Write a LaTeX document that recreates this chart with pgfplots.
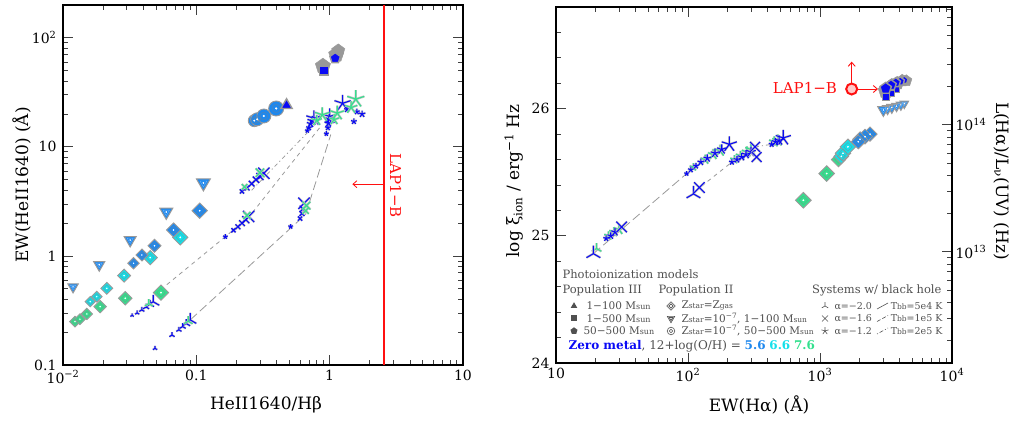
\documentclass[border=0pt]{standalone}
\usepackage{pgfplots}
\pgfplotsset{compat=1.18}
\usepackage{pgfplotstable}
\usetikzlibrary{plotmarks,arrows.meta}
\usepackage{fontspec}
\setmainfont{DejaVu Serif}
\definecolor{zm}{HTML}{0A0AF5}
\definecolor{c56}{HTML}{1E88EE}
\definecolor{c66}{HTML}{14E0EA}
\definecolor{c76}{HTML}{34E08E}
\definecolor{gr}{HTML}{999999}
\definecolor{lap}{HTML}{FF1010}
\definecolor{lgd}{HTML}{505050}

\pgfdeclareplotmark{itri*}{%
  \pgfpathmoveto{\pgfqpoint{0pt}{-\pgfplotmarksize}}%
  \pgfpathlineto{\pgfqpointpolar{30}{\pgfplotmarksize}}%
  \pgfpathlineto{\pgfqpointpolar{150}{\pgfplotmarksize}}%
  \pgfpathclose\pgfusepathqfillstroke}
\pgfdeclareplotmark{itri}{%
  \pgfpathmoveto{\pgfqpoint{0pt}{-\pgfplotmarksize}}%
  \pgfpathlineto{\pgfqpointpolar{30}{\pgfplotmarksize}}%
  \pgfpathlineto{\pgfqpointpolar{150}{\pgfplotmarksize}}%
  \pgfpathclose\pgfusepathqstroke}

\pgfplotsset{
  vsz/.style n args={3}{scatter, only marks, point meta=\thisrow{s},
    visualization depends on={#1*\thisrow{s}\as\perptsize},
    scatter/@pre marker code/.code={\scope[mark size=\perptsize, draw=#2, fill=#3]},
    scatter/@post marker code/.code={\endscope}},
  base/.style={scale only axis, clip mode=individual,
    axis line style={line width=1.3pt},
    major tick length=10pt, minor tick length=5pt,
    every tick/.style={line width=0.8pt, black!75},
    tick label style={font=\fontsize{14}{14}\selectfont},
    yticklabel style={xshift=-3pt}, xticklabel style={yshift=-2pt}},
}
\newcommand\conc[6][]{%
 \addplot[vsz={1}{gr}{#5}, mark=#3, mark options={line width=0.9pt, draw=gr, fill=#5, #1}] table {#2};
 \addplot[vsz={#6}{#5!50!gray}{#5}, mark=#4, mark options={line width=0.5pt, draw=#5!50!gray, #1}] table {#2};
 \addplot[vsz={0.12}{white}{white}, mark=*, mark options={draw=white, fill=white}] table {#2};
}
\newcommand\invt[2]{%
 \addplot[vsz={1}{gr}{#2}, mark=itri*, mark options={line width=1pt, draw=gr, fill=#2}] table {#1};
 \addplot[vsz={0.5}{#2!65!white}{#2}, mark=itri, mark options={line width=0.35pt, draw=#2!65!white}] table {#1};
 \addplot[vsz={0.08}{white}{white}, mark=*, mark options={draw=white, fill=white}] table {#1};
}
\newcommand\bh[3]{%
 \addplot[vsz={1}{gr!60}{gr!60}, mark=#2, mark options={line width=2.3pt, draw=gr!60}] table {#1};
 \addplot[vsz={1}{#3}{#3}, mark=#2, mark options={line width=1.1pt, draw=#3}] table {#1};
}
\newcommand\solid[4][]{%
 \addplot[vsz={1}{gr}{#4}, mark=#3, mark options={line width=1.4pt, draw=gr, fill=#4, #1}] table {#2};
}

% ---------------- left panel data ----------------
\pgfplotstableread{
x y s
0.0119 0.52 6
0.0187 0.83 6.5
0.0319 1.40 7
0.0595 2.53 7.5
0.113 4.67 8
}\LinvT
\pgfplotstableread{
x y s
0.0338 0.857 4.0
0.0391 1.02 4.2
0.0486 1.24 4.6
0.0675 1.73 5.0
0.106 2.60 5.4
}\LdiaA
\pgfplotstableread{
x y s
0.0160 0.381 3.6
0.0179 0.423 3.8
0.0213 0.505 4.2
0.0287 0.66 4.6
0.0451 0.965 5.0
0.0758 1.48 5.4
}\LdiaB
\pgfplotstableread{
x y s
0.0123 0.25 3.8
0.0134 0.263 3.8
0.0151 0.294 4.0
0.0190 0.343 4.4
0.0293 0.409 4.8
0.0543 0.461 5.4
}\LdiaC
\pgfplotstableread{
x y s
0.272 17.4 6
0.286 17.9 6.5
0.321 19.2 7
0.397 22.5 7.5
}\Lcirc
\pgfplotstableread{
x y s
0.89 55 8
1.12 70 8
1.16 76 7
}\Lgray
\pgfplotstableread{
x y s
0.475 24.1 6.5
}\Ltri
\pgfplotstableread{
x y s
0.906 50.1 4.5
}\Lsq
\pgfplotstableread{
x y s
1.10 65.1 5.5
}\Lpent
\pgfplotstableread{
x y s
0.033 0.285 2
0.036 0.30 2.5
0.039 0.32 3
0.042 0.34 3.5
0.045 0.36 4.5
0.0475 0.38 7
0.049 0.142 2.5
0.0657 0.188 3
0.074 0.21 3
0.079 0.225 3.5
0.084 0.24 4.5
0.090 0.259 7
}\LmsB
\pgfplotstableread{
x y s
0.044 0.365 4.5
0.087 0.252 5
}\LmsG
\pgfplotstableread{
x y s
0.19 1.72 3
0.205 1.85 3.5
0.22 2.0 4
0.235 2.15 5
0.247 2.30 8
0.22 3.9 3
0.24 4.2 3.5
0.26 4.6 4
0.28 5.0 4.5
0.30 5.35 5
0.321 5.73 8
0.60 2.2 3
0.62 2.45 3.5
0.63 2.7 4.5
0.642 3.04 8
}\LxB
\pgfplotstableread{
x y s
0.24 2.35 5
0.30 5.8 6
0.23 4.3 4
0.66 2.6 4.5
0.67 2.9 5.5
}\LxG
\pgfplotstableread{
x y s
0.165 1.50 2.5
0.51 1.86 2.5
0.68 14.1 2.5
0.70 15.0 3
0.72 16.3 4
0.74 17.3 5
0.762 18.3 8
0.944 13.2 2.5
0.97 15.0 3
0.98 16.5 4
0.99 18.0 5
1.0 19.0 8
1.25 25.1 8.5
1.52 17.1 3
1.75 20.0 3.5
1.6 21.0 3
1.35 22.0 3
}\LsB
\pgfplotstableread{
x y s
0.80 17.5 5.5
1.08 17.8 5.5
0.88 19.7 7.5
1.14 20.4 7.5
1.45 23.0 6.5
1.57 27.4 9
}\LsG

% ---------------- right panel data ----------------
\pgfplotstableread{
x y s
19.2 24.86 8
110 25.33 8
}\RmsB
\pgfplotstableread{
x y s
20.3 24.9 5.5
}\RmsG
\pgfplotstableread{
x y s
31.4 25.07 7.5
122 25.38 7.5
322 25.70 7
331 25.62 7
}\RxB
\pgfplotstableread{
x y s
24 24.98 3
26 25.0 3.5
28 25.03 4
97.7 25.49 2.5
105 25.52 3
115 25.55 3
125 25.58 3.5
140 25.61 4
160 25.65 4.5
180 25.68 5
205.6 25.72 8
215 25.58 3
235 25.60 3.5
255 25.62 4
275 25.64 4.5
300 25.66 5
430 25.72 3
460 25.74 4
490 25.75 5
527 25.77 8
}\RsB
\pgfplotstableread{
x y s
25 25.0 4.5
27.5 25.03 5
30 25.05 5.5
110 25.54 4
135 25.60 5
155 25.64 5.5
175 25.67 6
225 25.60 4.5
250 25.63 5
280 25.66 5.5
300 25.68 6
450 25.74 5.5
480 25.75 6
}\RsG
\pgfplotstableread{
x y s
4350 26.04 5
4100 26.03 5.5
3800 26.02 5.5
3500 26.01 6
3250 26.00 6
3020 25.99 6.5
}\RinvT
\pgfplotstableread{
x y s
4500 26.22 6
4200 26.22 6.5
3850 26.20 7
3500 26.18 7.5
3150 26.14 8
}\Rgray
\pgfplotstableread{
x y s
3800 26.15 3
3450 26.12 3.2
3150 26.09 3.5
}\Rsq
\pgfplotstableread{
x y s
4350 26.225 4
4050 26.215 4.5
3750 26.205 5
3450 26.185 5.5
3143 26.16 6
}\Rpent
\pgfplotstableread{
x y s
748 25.28 5.5
1123 25.49 5.5
1380 25.60 5.0
}\RdiaC
\pgfplotstableread{
x y s
1450 25.625 5.2
1493 25.65 5.5
1628 25.70 5.5
}\RdiaB
\pgfplotstableread{
x y s
2393 25.80 5
2193 25.78 5.2
2010 25.76 5.2
1950 25.74 5
}\RdiaA

\tikzset{
 ltri/.pic={\fill (90:3.8pt)--(210:3.8pt)--(330:3.8pt)--cycle;},
 lsq/.pic={\fill (-3pt,-3pt) rectangle (3pt,3pt);},
 lpent/.pic={\fill (90:3.7pt)--(162:3.7pt)--(234:3.7pt)--(306:3.7pt)--(18:3.7pt)--cycle;},
 ldia/.pic={\draw[line width=0.6pt] (0,4.3pt)--(4.3pt,0)--(0,-4.3pt)--(-4.3pt,0)--cycle (0,2.1pt)--(2.1pt,0)--(0,-2.1pt)--(-2.1pt,0)--cycle;},
 linvt/.pic={\draw[line width=0.6pt] (270:4.3pt)--(30:4.3pt)--(150:4.3pt)--cycle (270:2pt)--(30:2pt)--(150:2pt)--cycle;},
 lcirc/.pic={\draw[line width=0.6pt] (0,0) circle (3.8pt) (0,0) circle (1.8pt);},
 lms/.pic={\draw[line width=0.6pt] (0,0)--(90:3.8pt) (0,0)--(210:3.8pt) (0,0)--(330:3.8pt);},
 lx/.pic={\draw[line width=0.6pt] (-3pt,-3pt)--(3pt,3pt) (-3pt,3pt)--(3pt,-3pt);},
 lstar/.pic={\draw[line width=0.6pt] (0,0)--(90:3.8pt) (0,0)--(162:3.8pt) (0,0)--(234:3.8pt) (0,0)--(306:3.8pt) (0,0)--(18:3.8pt);},
}

\begin{document}
\begin{tikzpicture}
\path[use as bounding box] (0,0) rectangle (1020pt,423pt);

% ================= LEFT PANEL =================
\begin{axis}[base, at={(63pt,58pt)}, anchor=south west, width=400pt, height=360pt,
 xmode=log, ymode=log, xmin=0.01, xmax=10, ymin=0.1, ymax=200,
 xtick={0.01,0.1,1,10}, xticklabels={10\textsuperscript{−2},0.1,1,10},
 ytick={0.1,1,10,100}, yticklabels={0.1,1,10,10\textsuperscript{2}},
 minor xtick={0.02,0.03,0.04,0.05,0.06,0.07,0.08,0.09,0.2,0.3,0.4,0.5,0.6,0.7,0.8,0.9,2,3,4,5,6,7,8,9},
 minor ytick={0.2,0.3,0.4,0.5,0.6,0.7,0.8,0.9,2,3,4,5,6,7,8,9,20,30,40,50,60,70,80,90},
]
\addplot[gr, line width=0.8pt, dash pattern=on 9pt off 4pt] coordinates {(0.09,0.259)(0.66,2.4)(1.02,13)};
\addplot[gr, line width=0.8pt, dash pattern=on 4pt off 4pt] coordinates {(0.054,0.49)(0.165,1.5)(0.25,2.3)(0.86,15.5)};
\addplot[gr, line width=0.8pt, dash pattern=on 4pt off 3pt on 1pt off 3pt] coordinates {(0.26,4.0)(0.72,14.5)};

\addplot[lap, line width=1.2pt] coordinates {(2.56,0.1)(2.56,200)};
\draw[lap, line width=0.8pt, -{Straight Barb[length=4pt,width=7pt]}] (axis cs:2.56,4.55) -- (axis cs:1.48,4.55);
\node[lap, rotate=-90, font=\fontsize{15}{15}\selectfont] at (axis cs:3.13,4.39) {LAP1−B};

\invt{\LinvT}{c56}
\conc[rotate=45]{\LdiaC}{square*}{square}{c76}{0.55}
\conc[rotate=45]{\LdiaB}{square*}{square}{c66}{0.55}
\conc[rotate=45]{\LdiaA}{square*}{square}{c56}{0.55}
\conc{\Lcirc}{*}{o}{c56}{0.55}

\addplot[vsz={1}{gr}{gr}, mark=pentagon*, mark options={draw=gr, fill=gr}] table {\Lgray};
\solid{\Ltri}{triangle*}{zm}
\solid{\Lsq}{square*}{zm}
\solid{\Lpent}{pentagon*}{zm}

\bh{\LmsB}{Mercedes star}{zm}
\bh{\LmsG}{Mercedes star}{c76}
\bh{\LxB}{x}{zm}
\bh{\LxG}{x}{c76}
\bh{\LsB}{star}{zm}
\bh{\LsG}{star}{c76}
\end{axis}

\node[rotate=90, font=\fontsize{17}{17}\selectfont] at (22pt,238pt) {EW(HeII1640) (Å)};
\node[font=\fontsize{17}{17}\selectfont] at (266pt,18pt) {HeII1640/Hβ};

% ================= RIGHT PANEL =================
\begin{axis}[base, at={(556pt,60pt)}, anchor=south west, width=396pt, height=356pt,
 xmode=log, xmin=10, xmax=10000, ymin=24, ymax=26.8,
 xtick={10,100,1000,10000}, xticklabels={10,10\textsuperscript{2},10\textsuperscript{3},10\textsuperscript{4}},
 ytick={24,25,26}, yticklabels={24,25,26}, ytick pos=left,
 minor xtick={20,30,40,50,60,70,80,90,200,300,400,500,600,700,800,900,2000,3000,4000,5000,6000,7000,8000,9000},
 minor ytick={24.2,24.4,24.6,24.8,25.2,25.4,25.6,25.8,26.2,26.4,26.6},
]
\addplot[gr, line width=0.8pt, dash pattern=on 9pt off 4pt] coordinates {(19.2,24.86)(97.7,25.49)};
\addplot[gr, line width=0.8pt, dash pattern=on 4pt off 4pt] coordinates {(113,25.35)(215,25.58)};
\addplot[gr, line width=0.8pt, dash pattern=on 4pt off 3pt on 1pt off 3pt] coordinates {(322,25.70)(430,25.72)};

\conc[rotate=45]{\RdiaC}{square*}{square}{c76}{0.55}
\conc[rotate=45]{\RdiaB}{square*}{square}{c66}{0.55}
\conc[rotate=45]{\RdiaA}{square*}{square}{c56}{0.55}
\invt{\RinvT}{c56}
\addplot[vsz={1}{gr}{gr}, mark=pentagon*, mark options={draw=gr, fill=gr}] table {\Rgray};
\solid{\Rsq}{square*}{zm}
\solid{\Rpent}{pentagon*}{zm}

\bh{\RsG}{star}{c76}
\bh{\RsB}{star}{zm}
\bh{\RmsG}{Mercedes star}{c76}
\bh{\RmsB}{Mercedes star}{zm}
\bh{\RxB}{x}{zm}

\draw[lap, line width=0.9pt, -{Straight Barb[length=4pt,width=7pt]}] (axis cs:1738,26.206) -- (axis cs:1738,26.37);
\draw[lap, line width=0.9pt, -{Straight Barb[length=4pt,width=7pt]}] (axis cs:1941,26.155) -- (axis cs:2748,26.155);
\addplot[only marks, mark=*, mark size=5.5pt, mark options={draw=lap, fill=lap!22, line width=2pt}] coordinates {(1738,26.155)};
\node[lap, font=\fontsize{15}{15}\selectfont] at (axis cs:769,26.165) {LAP1−B};
\end{axis}

\begin{axis}[scale only axis, at={(556pt,60pt)}, anchor=south west, width=396pt, height=356pt,
 xmode=log, xmin=10, xmax=10000, axis x line=none, axis y line*=right,
 ymode=log, ymin=1.337e12, ymax=8.43e14,
 axis line style={line width=1.3pt},
 major tick length=10pt, minor tick length=5pt,
 every tick/.style={line width=0.8pt, black!75},
 tick label style={font=\fontsize{14}{14}\selectfont},
 ytick={1e13,1e14}, yticklabels={10\textsuperscript{13},10\textsuperscript{14}},
 minor ytick={2e12,3e12,4e12,5e12,6e12,7e12,8e12,9e12,2e13,3e13,4e13,5e13,6e13,7e13,8e13,9e13,2e14,3e14,4e14,5e14,6e14,7e14,8e14},
]
\addplot[draw=none] coordinates {(100,1e13)};
\end{axis}

\node[rotate=90, font=\fontsize{17}{17}\selectfont] at (514pt,242pt) {log ξ\textsubscript{ion} / erg\textsuperscript{−1} Hz};
\node[font=\fontsize{17}{17}\selectfont] at (759pt,18pt) {EW(Hα) (Å)};
\node[rotate=-90, font=\fontsize{17}{17}\selectfont] at (1002pt,242pt) {L(Hα)/L\textsubscript{ν}(UV) (Hz)};

% ---------------- legend ----------------
\begin{scope}[font=\fontsize{10.5}{11}\selectfont, text=lgd, color=lgd]
\node[anchor=west, font=\fontsize{11.5}{12}\selectfont] at (559pt,149pt) {Photoionization models};
\node[anchor=west, font=\fontsize{11.5}{12}\selectfont] at (559pt,132.5pt) {Population III};
\node[anchor=west, font=\fontsize{11.5}{12}\selectfont] at (655pt,132.5pt) {Population II};
\node[anchor=east, font=\fontsize{11.5}{12}\selectfont] at (945pt,132.5pt) {Systems w/ black hole};
\pic at (574pt,117pt) {ltri};
\pic at (574pt,104.5pt) {lsq};
\pic at (574pt,92pt) {lpent};
\node[anchor=west] at (583pt,117pt) {1−100 M{\fontsize{8}{8}\selectfont sun}};
\node[anchor=west] at (583pt,104.5pt) {1−500 M{\fontsize{8}{8}\selectfont sun}};
\node[anchor=west] at (580pt,92pt) {50−500 M{\fontsize{8}{8}\selectfont sun}};
\pic at (671pt,117pt) {ldia};
\pic at (671pt,104.5pt) {linvt};
\pic at (671pt,92pt) {lcirc};
\node[anchor=west] at (678pt,117pt) {Z{\fontsize{7.5}{8}\selectfont star}=Z{\fontsize{7.5}{8}\selectfont gas}};
\node[anchor=west] at (678pt,104.5pt) {Z{\fontsize{7.5}{8}\selectfont star}=10\textsuperscript{−7}, 1−100 M{\fontsize{7.5}{8}\selectfont sun}};
\node[anchor=west] at (678pt,92pt) {Z{\fontsize{7.5}{8}\selectfont star}=10\textsuperscript{−7}, 50−500 M{\fontsize{7.5}{8}\selectfont sun}};
\pic at (825pt,117pt) {lms};
\pic at (825pt,104.5pt) {lx};
\pic at (825pt,92pt) {lstar};
\begin{scope}[font=\fontsize{9.5}{10}\selectfont]
\node[anchor=west] at (831pt,117pt) {α=−2.0};
\node[anchor=west] at (831pt,104.5pt) {α=−1.6};
\node[anchor=west] at (831pt,92pt) {α=−1.2};
\node[anchor=east] at (946pt,117pt) {T{\fontsize{7.5}{8}\selectfont bb}=5e4 K};
\node[anchor=east] at (946pt,104.5pt) {T{\fontsize{7.5}{8}\selectfont bb}=1e5 K};
\node[anchor=east] at (946pt,92pt) {T{\fontsize{7.5}{8}\selectfont bb}=2e5 K};
\end{scope}
\draw[line width=0.6pt] (877pt,114pt) -- (888pt,120pt);
\draw[line width=0.6pt, dash pattern=on 4pt off 2pt] (877pt,101.5pt) -- (888pt,107.5pt);
\draw[line width=0.6pt, dash pattern=on 1pt off 2pt on 4pt off 2pt] (877pt,89pt) -- (888pt,95pt);
\node[anchor=west, font=\fontsize{12}{12}\selectfont] at (565pt,76.5pt) {\textbf{\color{zm}Zero metal}, 12+log(O/H) = \textbf{\color{c56}5.6} \textbf{\color{c66}6.6} \textbf{\color{c76}7.6}};
\end{scope}
\end{tikzpicture}
\end{document}
